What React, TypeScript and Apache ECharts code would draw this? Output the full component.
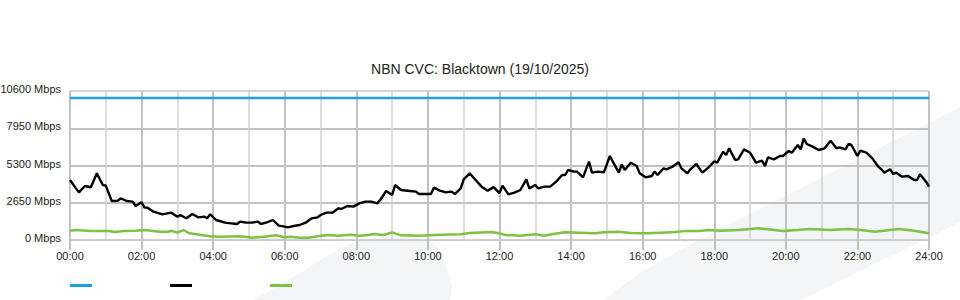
import React, { useEffect, useRef } from "react";
import * as echarts from "echarts";

// Minutes since midnight and Mbps values
const downTimes = [
  0, 10, 15, 25, 35, 45, 55, 60, 70, 80, 85, 95, 105, 110, 120, 125, 130, 140, 155, 170,
  180, 185, 195, 205, 215, 225, 230, 235, 245, 260, 270, 280, 285, 295, 305, 315, 320, 330, 340, 350,
  360, 365, 375, 385, 395, 405, 415, 420, 430, 440, 450, 455, 465, 475, 485, 495, 505, 515, 520, 530,
  540, 545, 555, 570, 580, 585, 595, 605, 610, 620, 630, 640, 645, 655, 660, 670, 680, 690, 700, 710,
  720, 725, 735, 745, 755, 765, 770, 780, 785, 795, 805, 815, 825, 830, 835, 845, 850, 860, 870, 875,
  885, 895, 905, 910, 920, 925, 930, 940, 950, 955, 965, 975, 980, 985, 995, 1000, 1010, 1020, 1025, 1035,
  1040, 1050, 1060, 1070, 1080, 1085, 1095, 1100, 1105, 1115, 1120, 1130, 1140, 1150, 1160, 1165, 1170, 1180, 1190, 1195,
  1205, 1210, 1220, 1225, 1230, 1235, 1245, 1255, 1265, 1275, 1285, 1290, 1300, 1305, 1310, 1320, 1325, 1335, 1345, 1355,
  1360, 1365, 1375, 1380, 1385, 1395, 1405, 1415, 1420, 1425, 1435, 1440,
];
const downValues = [
  4268, 3675, 3390, 3840, 3750, 4743, 3912, 3865, 2774, 2797, 2964, 2774, 2727, 2419, 2680, 2300, 2300, 2016, 1826, 1944,
  1660, 1778, 1542, 1850, 1612, 1660, 1542, 1826, 1423, 1233, 1186, 1138, 1304, 1233, 1233, 1304, 1138, 1257, 1423, 1020,
  949, 901, 996, 1067, 1233, 1542, 1612, 1778, 1944, 1944, 2253, 2205, 2419, 2371, 2608, 2727, 2727, 2608, 2846, 3486,
  3201, 3912, 3557, 3486, 3439, 3272, 3272, 3272, 3723, 3510, 3390, 3439, 3272, 3675, 4316, 4743, 4268, 3794, 3510, 3760,
  3340, 3865, 3249, 3367, 3557, 4316, 3675, 3912, 3675, 3794, 3794, 4150, 4624, 4624, 4980, 4861, 4861, 4458, 5572, 4790,
  4861, 4814, 5976, 5572, 4790, 5383, 4980, 5500, 5265, 4743, 4458, 4553, 4861, 4624, 5100, 5029, 5216, 5525, 5100, 4743,
  5029, 5406, 4790, 5150, 5600, 5500, 6283, 6047, 6520, 5691, 5738, 6449, 6212, 5500, 5643, 5265, 5880, 5738, 5976, 5976,
  6331, 6212, 6758, 6449, 7234, 6829, 6640, 6403, 6520, 7064, 6520, 6594, 6449, 6829, 6758, 5976, 6354, 6212, 5810, 5216,
  5029, 4790, 5029, 4695, 4790, 4505, 4553, 4268, 4268, 4671, 4150, 3794,
];

const upTimes = [
  0, 10, 35, 65, 75, 90, 110, 125, 150, 165, 170, 180, 190, 200, 220, 235, 250, 285, 300, 305,
  325, 345, 360, 370, 385, 400, 420, 435, 450, 470, 485, 500, 510, 525, 540, 555, 585, 620, 655, 670,
  705, 720, 730, 755, 780, 795, 810, 830, 855, 880, 895, 920, 940, 965, 990, 1015, 1030, 1055, 1070, 1090,
  1120, 1155, 1170, 1195, 1220, 1240, 1275, 1305, 1325, 1350, 1375, 1390, 1415, 1440,
];
const upValues = [
  662, 711, 640, 640, 569, 640, 662, 711, 590, 590, 662, 522, 711, 474, 356, 261, 237, 261, 190, 166,
  237, 332, 190, 237, 166, 166, 308, 356, 308, 379, 308, 356, 427, 356, 545, 332, 308, 379, 403, 498,
  569, 474, 356, 308, 403, 308, 427, 545, 522, 474, 545, 593, 498, 474, 522, 570, 640, 640, 711, 664,
  711, 830, 759, 640, 711, 782, 711, 782, 711, 593, 711, 782, 664, 474,
];

const capTimes = [0, 1440];
const capValues = [10100, 10100];

const yTicks = [0, 2650, 5300, 7950, 10600];

const zip = (t: number[], v: number[]) => t.map((x, i) => [x, v[i]]);

export default function App() {
  const ref = useRef<HTMLDivElement>(null);
  useEffect(() => {
    if (!ref.current) return;
    const chart = echarts.init(ref.current, undefined, { renderer: "svg" });
    const font = "'Liberation Sans', Arial, sans-serif";
    chart.setOption({
      animation: false,
      backgroundColor: "#ffffff",
      textStyle: { fontFamily: font },
      title: {
        text: "NBN CVC: Blacktown (19/10/2025)",
        left: "center",
        top: 57,
        textStyle: { fontSize: 14, fontWeight: "normal", color: "#222", fontFamily: font },
      },
      legend: {
        left: 70,
        top: 284,
        padding: 0,
        icon: "rect",
        itemWidth: 22,
        itemHeight: 3,
        itemGap: 78,
        formatter: () => "",
        textStyle: { fontSize: 1 },
        data: ["Capacity", "Download", "Upload"],
      },
      grid: { left: 70, right: 31, top: 91, bottom: 60, outerBoundsMode: "none" },
      graphic: [
        {
          type: "polygon",
          z: -10,
          silent: true,
          shape: {
            points: [
              [253, 300], [280, 285], [305, 270], [333, 252], [360, 240], [385, 237], [410, 237],
              [430, 241], [440, 250], [447, 270], [452, 287], [450, 300],
            ],
          },
          style: { fill: "#f4f5f7" },
        },
        {
          type: "polygon",
          z: -10,
          silent: true,
          shape: {
            points: [
              [603, 300], [640, 273], [680, 250], [960, 107], [960, 222], [802, 300],
            ],
          },
          style: { fill: "#f4f5f7" },
        },
      ],
      xAxis: {
        type: "value",
        min: 0,
        max: 1440,
        interval: 120,
        axisLine: { show: true, lineStyle: { color: "#cccccc", width: 1 } },
        axisTick: { show: true, length: 10, lineStyle: { color: "#c0c0c0", width: 2 } },
        axisLabel: {
          margin: 10,
          fontSize: 11,
          color: "#222",
          fontFamily: font,
          formatter: (v: number) => `${String(Math.round(v / 60)).padStart(2, "0")}:00`,
        },
        splitLine: { show: true, lineStyle: { color: "#c2c2c2", width: 2 } },
        minorTick: { show: false, splitNumber: 2 },
        minorSplitLine: { show: true, lineStyle: { color: "#d2d2d2", width: 1.5 } },
      },
      yAxis: {
        type: "value",
        min: yTicks[0],
        max: yTicks[yTicks.length - 1],
        interval: yTicks[1] - yTicks[0],
        axisLine: { show: false },
        axisTick: { show: false },
        axisLabel: {
          margin: 9,
          fontSize: 11,
          color: "#222",
          fontFamily: font,
          formatter: (v: number) => `{a|${v} Mbps}`,
          rich: {
            a: { fontSize: 11, color: "#222", fontFamily: font, padding: [0, 0, 4, 0] },
          },
        },
        splitLine: {
          show: true,
          lineStyle: { color: ["#d0d0d0", "#c2c2c2", "#c2c2c2", "#c2c2c2", "#d4d4d4"], width: 2 },
        },
      },
      series: [
        {
          name: "Capacity",
          type: "line",
          data: zip(capTimes, capValues),
          showSymbol: false,
          lineStyle: { color: "#1da1e2", width: 2.5 },
          itemStyle: { color: "#1da1e2" },
          z: 3,
        },
        {
          name: "Download",
          type: "line",
          data: zip(downTimes, downValues),
          showSymbol: false,
          lineStyle: { color: "#000000", width: 2.4 },
          itemStyle: { color: "#000000" },
          z: 4,
        },
        {
          name: "Upload",
          type: "line",
          data: zip(upTimes, upValues),
          showSymbol: false,
          lineStyle: { color: "#7dc242", width: 2.5 },
          itemStyle: { color: "#7dc242" },
          z: 3,
        },
      ],
    });
    return () => chart.dispose();
  }, []);
  return <div ref={ref} style={{ width: 960, height: 300, position: "absolute", left: 0, top: 0 }} />;
}
